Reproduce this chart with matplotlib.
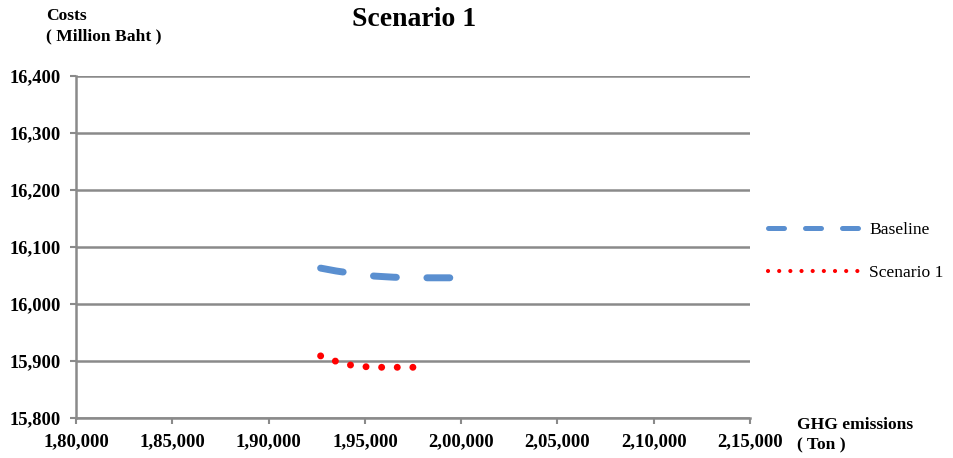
import matplotlib.pyplot as plt
from matplotlib.lines import Line2D

plt.rcParams['font.family'] = ['Liberation Serif', 'DejaVu Serif']
plt.rcParams['font.weight'] = 'bold'

# Costs (million baht) against GHG emissions (ton)
baseline_x = [192700, 193500, 194500, 195500, 196500, 197500, 198500, 199500]
baseline_y = [16063, 16058, 16053, 16049, 16047, 16046, 16046, 16046]

scen1_x = [192700, 193450, 194250, 195050, 195850, 196650, 197500]
scen1_y = [15909, 15900, 15893, 15890, 15889, 15889, 15889]

x_ticks = [180000, 185000, 190000, 195000, 200000, 205000, 210000, 215000]
x_labels = ['1,80,000', '1,85,000', '1,90,000', '1,95,000',
            '2,00,000', '2,05,000', '2,10,000', '2,15,000']
y_ticks = [15800, 15900, 16000, 16100, 16200, 16300, 16400]
y_labels = ['15,800', '15,900', '16,000', '16,100', '16,200', '16,300', '16,400']

GRID = '#8a8a8a'
BLUE = '#5a8fd0'
RED = '#ff0000'

fig = plt.figure(figsize=(9.54, 4.58), dpi=100)
ax = fig.add_axes([0.0797, 0.0873, 0.7065, 0.7467])

ax.plot(baseline_x, baseline_y, color=BLUE, lw=5, linestyle=(0, (3.3, 4.4)),
        dash_capstyle='round', solid_capstyle='round')
ax.plot(scen1_x, scen1_y, color=RED, lw=5.0, linestyle=(0, (0.01, 2.24)),
        dash_capstyle='round')

ax.set_xlim(180000, 215000)
ax.set_ylim(15800, 16400)
ax.set_xticks(x_ticks)
ax.set_xticklabels(x_labels)
ax.set_yticks(y_ticks)
ax.set_yticklabels(y_labels)

ax.yaxis.grid(True, color=GRID, lw=1.8)
ax.set_axisbelow(True)
for s in ['top', 'right']:
    ax.spines[s].set_visible(False)
for s in ['left', 'bottom']:
    ax.spines[s].set_color(GRID)
    ax.spines[s].set_linewidth(1.8)
ax.tick_params(axis='both', colors=GRID, width=1.5, length=4, labelcolor='black')
ax.tick_params(axis='x', pad=7, labelsize=13.5)
ax.tick_params(axis='y', pad=7, labelsize=13.3)
for lbl in ax.get_xticklabels() + ax.get_yticklabels():
    lbl.set_fontweight('bold')

fig.text(0.434, 0.958, 'Scenario 1', ha='center', va='center', fontsize=20, fontweight='bold')
fig.text(0.048, 0.965, 'Costs', ha='left', va='center', fontsize=12.6, fontweight='bold')
fig.text(0.048, 0.920, '( Million Baht )', ha='left', va='center', fontsize=12.6, fontweight='bold')
fig.text(0.835, 0.072, 'GHG emissions', ha='left', va='center', fontsize=12.6, fontweight='bold')
fig.text(0.835, 0.027, '( Ton )', ha='left', va='center', fontsize=12.6, fontweight='bold')

# legend handles use a shorter dash pattern than the plotted lines
handles = [
    Line2D([], [], color=BLUE, lw=3.6, linestyle=(0, (3.2, 4.2)), dash_capstyle='round'),
    Line2D([], [], color=RED, lw=3.0, linestyle=(0, (0.01, 2.67)), dash_capstyle='round'),
]
fig.legend(handles, ['Baseline', 'Scenario 1'], loc='upper left',
           bbox_to_anchor=(0.789, 0.55), frameon=False,
           handlelength=5.3, handletextpad=0.45, labelspacing=1.55,
           prop={'family': 'Liberation Serif', 'weight': 'normal', 'size': 12.6})

fig.savefig('out.png', dpi=100)
